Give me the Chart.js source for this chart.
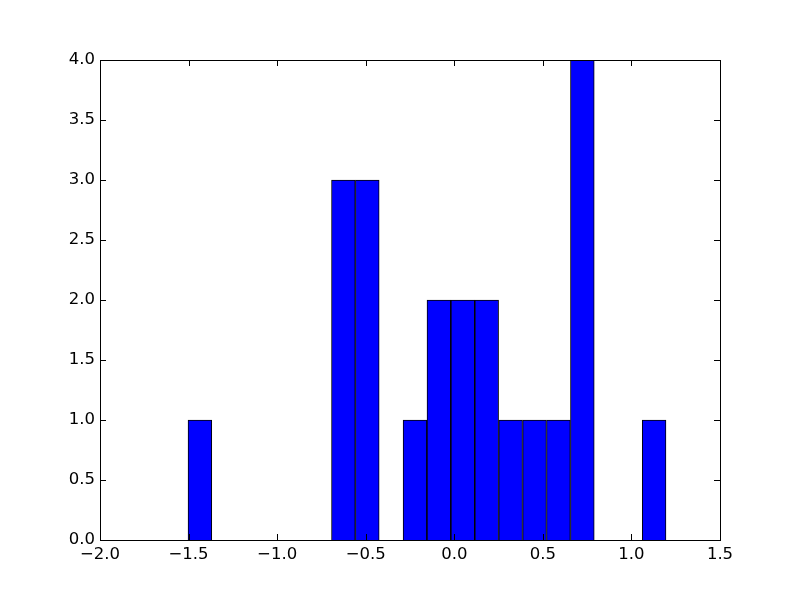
<!DOCTYPE html>
<html>
<head>
<meta charset="utf-8">
<script src="https://cdn.jsdelivr.net/npm/chart.js@4.4.0/dist/chart.umd.min.js"></script>
<style>
	body { margin: 0; background: #fff; }
	canvas { display: block; }
</style>
</head>
<body>
<canvas id="hist-chartcanvas" width="800" height="600"></canvas>
<script>
// histogram bins (centres) and counts
var binCenters = [-1.436, -1.301, -1.166, -1.031, -0.896, -0.761, -0.626, -0.491, -0.356, -0.222,
	-0.087, 0.048, 0.183, 0.318, 0.453, 0.588, 0.723, 0.858, 0.993, 1.128];
var counts = [1, 0, 0, 0, 0, 0, 3, 3, 0, 1,
	2, 2, 2, 1, 1, 1, 4, 0, 0, 1];
var xTicks = [-2.0, -1.5, -1.0, -0.5, 0.0, 0.5, 1.0, 1.5];
var yTicks = [0.0, 0.5, 1.0, 1.5, 2.0, 2.5, 3.0, 3.5, 4.0];

function fmt(v) {
	return v.toFixed(1).replace("-", "\u2212");
}

var histData = [];
for (var i = 0; i < binCenters.length; i++) {
	histData.push({ x : binCenters[i], y : counts[i] });
}

// frame + inward ticks on all four sides, like matplotlib classic
var framePlugin = {
	id : "frame",
	afterDraw : function(chart) {
		var ctx = chart.ctx;
		var a = chart.chartArea;
		var xs = chart.scales.x, ys = chart.scales.y;
		var len = 6;
		ctx.save();
		ctx.strokeStyle = "#000";
		ctx.lineWidth = 1;
		ctx.beginPath();
		xTicks.forEach(function(v) {
			var px = Math.round(xs.getPixelForValue(v)) + 0.5;
			ctx.moveTo(px, a.bottom); ctx.lineTo(px, a.bottom - len);
			ctx.moveTo(px, a.top); ctx.lineTo(px, a.top + len);
		});
		yTicks.forEach(function(v) {
			var py = Math.round(ys.getPixelForValue(v)) + 0.5;
			ctx.moveTo(a.left, py); ctx.lineTo(a.left + len, py);
			ctx.moveTo(a.right, py); ctx.lineTo(a.right - len, py);
		});
		ctx.stroke();
		ctx.strokeRect(Math.round(a.left) + 0.5, Math.round(a.top) + 0.5,
			Math.round(a.right - a.left), Math.round(a.bottom - a.top));
		ctx.restore();
	}
};

var tickFont = { family : "'DejaVu Sans'", size : 16.5 };

var histChart = new Chart(document.getElementById("hist-chartcanvas"), {
	type : "bar",
	data : {
		datasets : [{
			data : histData,
			backgroundColor : "#0000ff",
			borderColor : "#000000",
			borderWidth : 1,
			borderSkipped : "start",
			barPercentage : 1,
			categoryPercentage : 1
		}]
	},
	options : {
		responsive : false,
		animation : false,
		layout : { padding : { left : 0, right : 80, top : 60, bottom : 0 } },
		plugins : {
			legend : { display : false },
			tooltip : { enabled : false }
		},
		scales : {
			x : {
				type : "linear",
				offset : false,
				min : -2.0,
				max : 1.5,
				afterFit : function(s) { s.height = 60; },
				afterBuildTicks : function(s) {
					s.ticks = xTicks.map(function(v) { return { value : v }; });
				},
				grid : { display : false, drawTicks : false },
				border : { display : false },
				ticks : {
					color : "#000",
					font : tickFont,
					padding : 5,
					maxRotation : 0,
					callback : function(v) { return fmt(v); }
				}
			},
			y : {
				type : "linear",
				min : 0,
				max : 4.0,
				afterFit : function(s) { s.width = 100; },
				afterBuildTicks : function(s) {
					s.ticks = yTicks.map(function(v) { return { value : v }; });
				},
				grid : { display : false, drawTicks : false },
				border : { display : false },
				ticks : {
					color : "#000",
					font : tickFont,
					padding : 5,
					callback : function(v) { return fmt(v); }
				}
			}
		}
	},
	plugins : [framePlugin]
});
</script>
</body>
</html>
